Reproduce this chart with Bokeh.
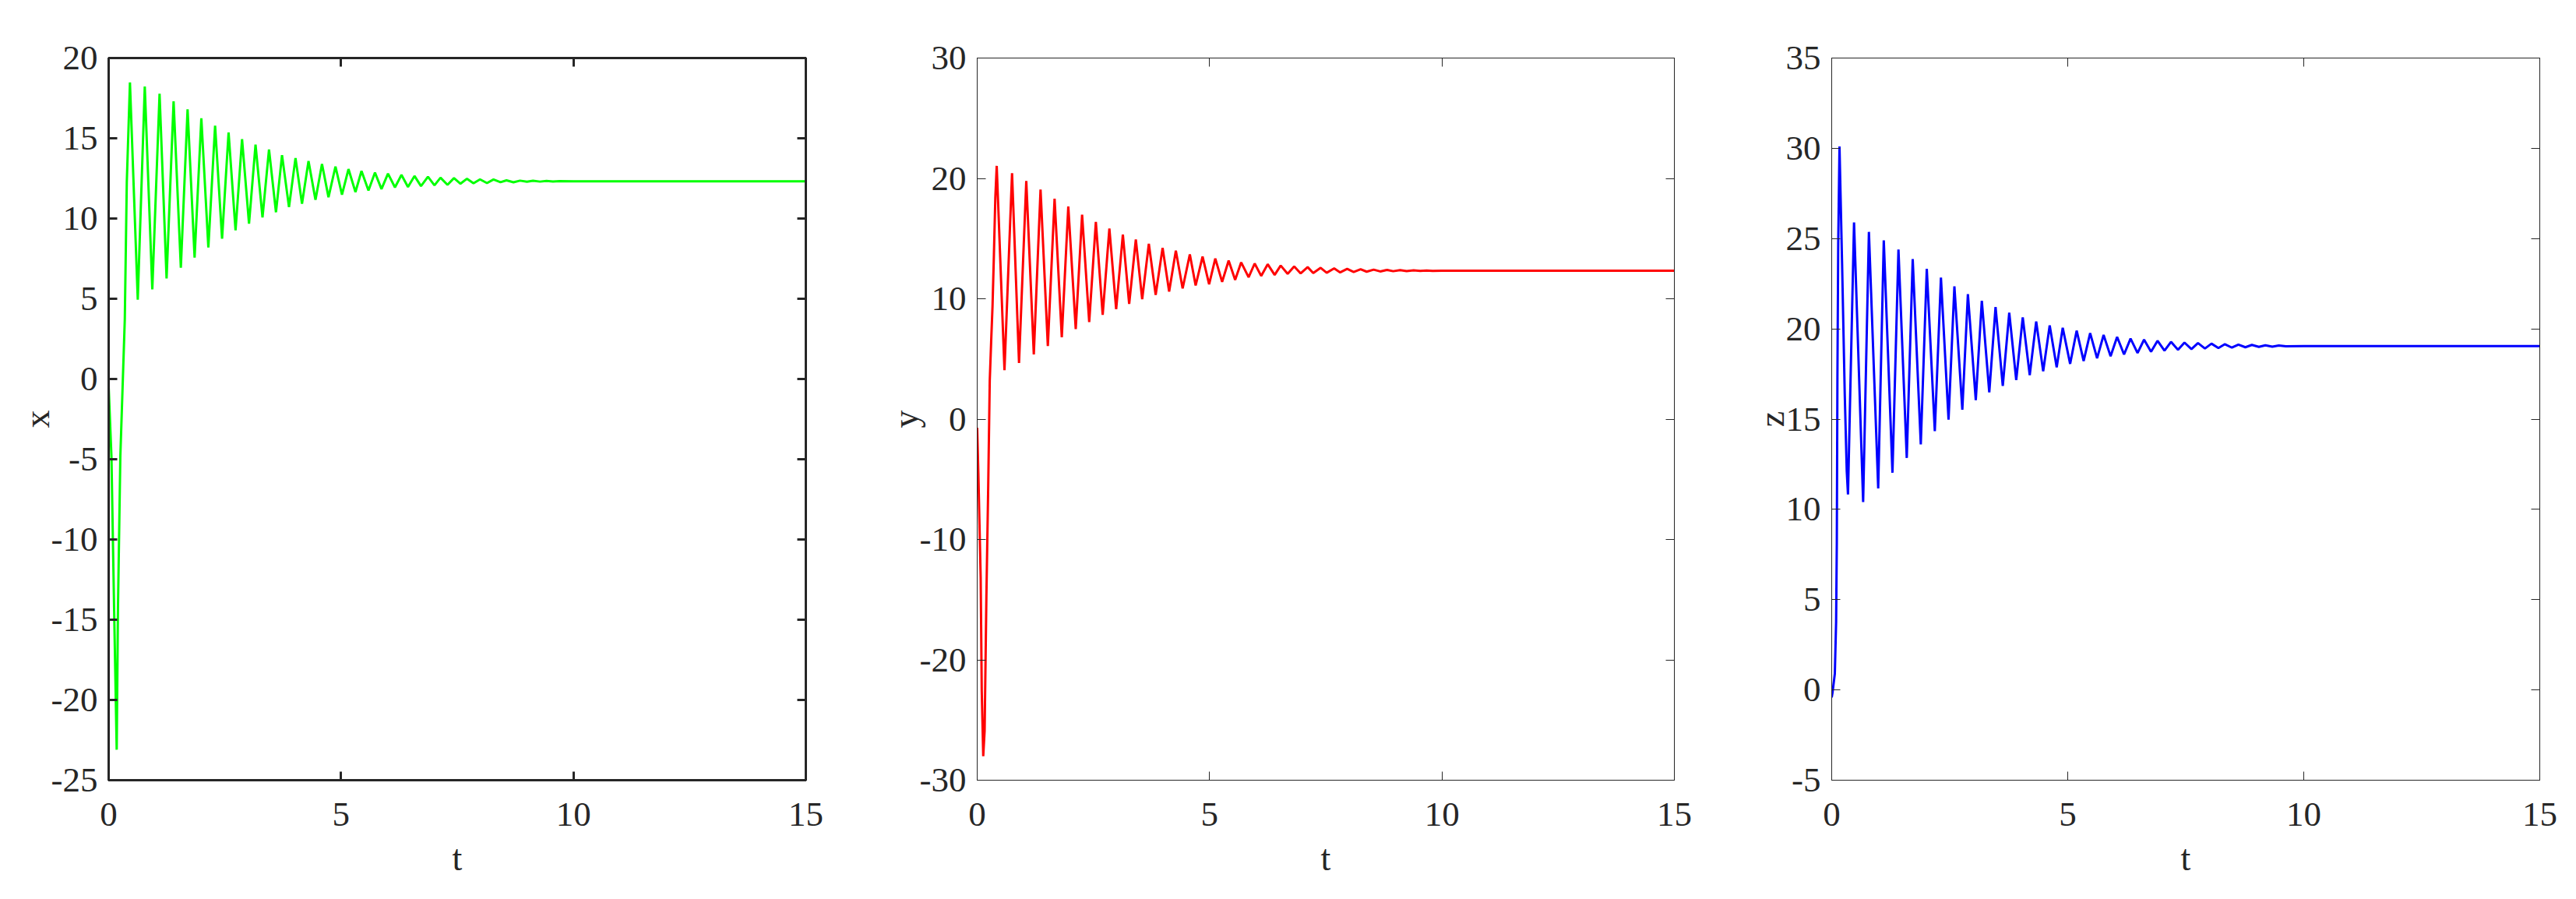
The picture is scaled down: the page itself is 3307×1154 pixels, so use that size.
from bokeh.plotting import figure
from bokeh.layouts import row
from bokeh.models import LinearAxis, FixedTicker, Range1d
from bokeh.embed import file_html
from bokeh.resources import INLINE

# ---- data ----
t_x = [0, 0.06, 0.117, 0.173, 0.2, 0.251, 0.347, 0.39, 0.458, 0.626, 0.777, 0.939, 1.095, 1.246,
       1.397, 1.553, 1.698, 1.849, 1.994, 2.145, 2.29, 2.44, 2.58, 2.73, 2.87, 3.02, 3.16, 3.31,
       3.45, 3.60, 3.73, 3.88, 4.02, 4.16, 4.30, 4.45, 4.59, 4.73, 4.88, 5.02, 5.16, 5.31, 5.44,
       5.59, 5.73, 5.87, 6.01, 6.16, 6.30, 6.44, 6.58, 6.72, 6.87, 7.01, 7.14, 7.29, 7.43, 7.57,
       7.71, 7.85, 7.99, 8.14, 8.28, 8.43, 8.56, 8.71, 8.85, 9.0, 9.13, 9.28, 9.42, 9.56, 9.70,
       10.0, 15.0]
x_vals = [-0.5, -4.85, -14.3, -23.1, -14.3, -4.85, 3.7, 12.25, 18.48, 4.94, 18.22, 5.58, 17.78, 6.26,
          17.30, 6.93, 16.80, 7.57, 16.25, 8.20, 15.79, 8.74, 15.36, 9.26, 14.95, 9.68, 14.6, 10.07,
          14.3, 10.39, 13.95, 10.71, 13.77, 10.92, 13.58, 11.16, 13.40, 11.33, 13.24, 11.49, 13.08, 11.65, 12.96,
          11.75, 12.86, 11.84, 12.80, 11.94, 12.72, 11.97, 12.65, 12.02, 12.60, 12.07, 12.54, 12.10, 12.52, 12.17,
          12.48, 12.20, 12.44, 12.21, 12.43, 12.26, 12.38, 12.26, 12.36, 12.29, 12.35, 12.30, 12.34, 12.31, 12.33,
          12.32, 12.32]

t_y = [0, 0.025, 0.075, 0.098, 0.13, 0.16, 0.198, 0.237, 0.27, 0.30, 0.33, 0.36, 0.39, 0.42,
       0.587, 0.75, 0.90, 1.056, 1.218, 1.363, 1.52, 1.665, 1.82, 1.96, 2.12, 2.257, 2.41, 2.553,
       2.70, 2.844, 2.99, 3.134, 3.27, 3.413, 3.55, 3.693, 3.84, 3.989, 4.13, 4.274, 4.42, 4.575,
       4.70, 4.849, 4.99, 5.123, 5.27, 5.41, 5.55, 5.68, 5.84, 5.97, 6.11, 6.25, 6.40, 6.53, 6.68,
       6.82, 6.96, 7.11, 7.23, 7.39, 7.52, 7.68, 7.81, 7.96, 8.10, 8.25, 8.38, 8.53, 8.67, 8.82,
       8.95, 9.10, 9.24, 9.39, 9.53, 9.67, 9.80, 10.0, 15.0]
y_vals = [-0.72, -4.5, -13.2, -22.6, -28.0, -25.9, -14.7, -5.57, 3.18, 6.4, 9.4, 13.7, 18.4, 21.04,
          4.06, 20.44, 4.67, 19.79, 5.38, 19.08, 6.07, 18.32, 6.8, 17.66, 7.48, 16.99, 8.06, 16.38,
          8.66, 15.84, 9.13, 15.33, 9.57, 14.92, 9.96, 14.57, 10.32, 14.23, 10.6, 13.99, 10.86, 13.69,
          11.1, 13.5, 11.2, 13.34, 11.4, 13.17, 11.57, 13.02, 11.79, 12.93, 11.9, 12.87, 11.98, 12.76, 12.07,
          12.69, 12.11, 12.63, 12.13, 12.57, 12.16, 12.52, 12.19, 12.48, 12.22, 12.45, 12.25, 12.42, 12.27, 12.40,
          12.29, 12.38, 12.30, 12.36, 12.31, 12.35, 12.32, 12.33, 12.33]

t_z = [0, 0.02, 0.066, 0.0935, 0.108, 0.121, 0.138, 0.165, 0.22, 0.276, 0.319, 0.345, 0.473, 0.666,
       0.788, 0.985, 1.103, 1.287, 1.414, 1.590, 1.716, 1.887, 2.014, 2.184, 2.314, 2.475, 2.599, 2.767,
       2.885, 3.052, 3.180, 3.338, 3.471, 3.624, 3.761, 3.909, 4.047, 4.195, 4.332, 4.480, 4.618, 4.766, 4.894,
       5.051, 5.189, 5.337, 5.475, 5.622, 5.760, 5.908, 6.046, 6.193, 6.331, 6.479, 6.617, 6.765, 6.902, 7.050,
       7.188, 7.336, 7.473, 7.621, 7.759, 7.907, 8.045, 8.192, 8.330, 8.478, 8.616, 8.763, 8.901, 9.049, 9.187,
       9.334, 9.472, 9.620, 10.0, 15.0]
z_vals = [-0.42, -0.1, 0.9, 3.78, 8.1, 17.3, 24.75, 30.1, 23.6, 16.4, 12.1, 10.83, 25.89, 10.41,
          25.37, 11.16, 24.9, 12.03, 24.39, 12.85, 23.86, 13.6, 23.33, 14.33, 22.84, 14.97, 22.35, 15.52,
          21.92, 16.05, 21.55, 16.48, 21.21, 16.84, 20.89, 17.16, 20.63, 17.44, 20.41, 17.65, 20.19, 17.87, 20.06,
          18.06, 19.9, 18.22, 19.76, 18.37, 19.66, 18.48, 19.55, 18.58, 19.46, 18.66, 19.40, 18.73, 19.34, 18.79,
          19.28, 18.84, 19.24, 18.88, 19.21, 18.91, 19.18, 18.94, 19.15, 18.96, 19.13, 18.98, 19.11, 19.0, 19.09,
          19.01, 19.08, 19.03, 19.05, 19.05]

t_ticks = [0, 5, 10, 15]
x_ticks = [-25, -20, -15, -10, -5, 0, 5, 10, 15, 20]
y_ticks = [-30, -20, -10, 0, 10, 20, 30]
z_ticks = [-5, 0, 5, 10, 15, 20, 25, 30, 35]

FONT = "Liberation Serif"
AX = "#262626"


def style_axis(ax, ticks, lw, show_labels):
    ax.ticker = FixedTicker(ticks=ticks)
    ax.axis_line_color = AX
    ax.axis_line_width = lw
    ax.major_tick_line_color = AX
    ax.major_tick_line_width = lw
    ax.major_tick_in = 11
    ax.major_tick_out = 0
    ax.minor_tick_in = 0
    ax.minor_tick_out = 0
    ax.major_label_text_font = FONT
    ax.major_label_text_font_size = "45px"
    ax.major_label_text_color = AX
    ax.axis_label_text_font = FONT
    ax.axis_label_text_font_size = "46px"
    ax.axis_label_text_font_style = "normal"
    ax.axis_label_text_color = AX
    if show_labels:
        ax.major_label_overrides = {v: str(v) for v in ticks}
    else:
        ax.major_label_overrides = {v: "" for v in ticks}
        ax.major_label_text_font_size = "0px"
        ax.major_label_standoff = 0


def panel(t, v, color, ylab, yr, yticks, fw, bl, br, lw, label_standoff):
    p = figure(frame_width=fw, frame_height=927,
               x_range=Range1d(0, 15), y_range=Range1d(*yr),
               output_backend="svg", toolbar_location=None,
               min_border_left=bl, min_border_right=br,
               min_border_top=74, min_border_bottom=137,
               background_fill_color="white", border_fill_color="white")
    p.line(t, v, line_color=color, line_width=3)
    p.xgrid.visible = False
    p.ygrid.visible = False
    p.outline_line_color = AX
    p.outline_line_width = lw

    xa = p.xaxis[0]
    style_axis(xa, t_ticks, lw, True)
    xa.axis_label = "t"
    xa.major_label_standoff = 29
    xa.axis_label_standoff = 13

    ya = p.yaxis[0]
    style_axis(ya, yticks, lw, True)
    ya.axis_label = ylab
    ya.major_label_standoff = 14
    ya.axis_label_standoff = label_standoff

    top = LinearAxis()
    style_axis(top, t_ticks, lw, False)
    p.add_layout(top, "above")
    right = LinearAxis()
    style_axis(right, yticks, lw, False)
    p.add_layout(right, "right")
    return p


p1 = panel(t_x, x_vals, "#00FF00", "x", (-25, 20), x_ticks, 895, 139, 68, 3, -10)
p2 = panel(t_y, y_vals, "#FF0000", "y", (-30, 30), y_ticks, 895, 152, 58, 1, -10)
p3 = panel(t_z, z_vals, "#0000FF", "z", (-5, 35), z_ticks, 909, 144, 31, 1, -10)

layout = row(p1, p2, p3)
open("out.html", "w").write(file_html(layout, INLINE))
